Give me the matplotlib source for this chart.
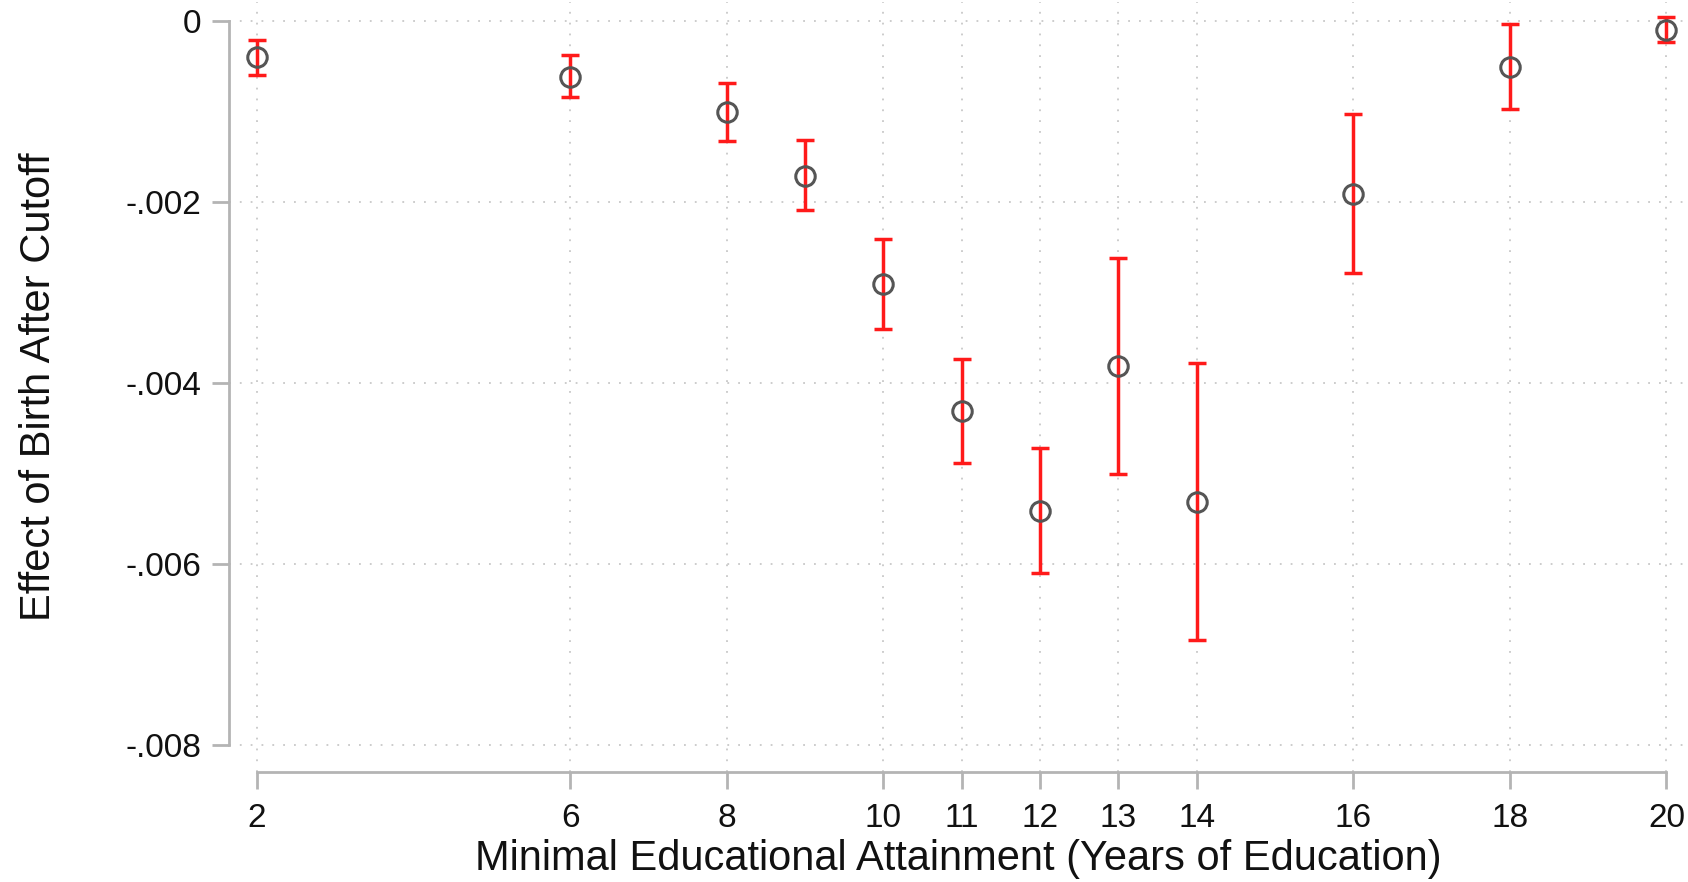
import numpy as np
import matplotlib
matplotlib.use("Agg")
import matplotlib.pyplot as plt

plt.rcParams['font.family'] = ['Liberation Sans', 'DejaVu Sans']

# years of education and estimated effect with 95% CI
years = [2, 6, 8, 9, 10, 11, 12, 13, 14, 16, 18, 20]
effect = [-0.00040, -0.00062, -0.00101, -0.00171, -0.00291, -0.00431,
          -0.00541, -0.00381, -0.00531, -0.00191, -0.00051, -0.00010]
ci_low = [-0.00060, -0.00084, -0.00133, -0.00209, -0.00340, -0.00488,
          -0.00610, -0.00500, -0.00684, -0.00278, -0.00097, -0.00024]
ci_high = [-0.00021, -0.00038, -0.00069, -0.00132, -0.00241, -0.00373,
           -0.00472, -0.00262, -0.00378, -0.00103, -0.00004, 0.00004]

x_ticks = [2, 6, 8, 10, 11, 12, 13, 14, 16, 18, 20]
y_ticks = [0, -0.002, -0.004, -0.006, -0.008]
y_tick_labels = ["0", "-.002", "-.004", "-.006", "-.008"]

effect = np.array(effect)
yerr = np.vstack([effect - np.array(ci_low), np.array(ci_high) - effect])

fig = plt.figure(figsize=(16.88, 8.82), dpi=100)
ax = fig.add_axes([229 / 1688, 1 - 772 / 882, 1 - 229 / 1688, 770 / 882])

# grid first so points sit on top
ax.set_xticks(x_ticks)
ax.set_yticks(y_ticks)
ax.grid(True, color='#c8c8c8', linestyle=(0, (1, 5)), linewidth=1.3)
ax.set_axisbelow(True)

ax.errorbar(years, effect, yerr=yerr, fmt='none', ecolor='#ff1a1a',
            elinewidth=2.5, capsize=6.5, capthick=2.5, clip_on=False, zorder=3)
ax.plot(years, effect, 'o', mfc='none', mec='#555555', ms=14, mew=2.2,
        clip_on=False, zorder=4)

ax.set_xlim(1.642, 20.275)
ax.set_ylim(-0.008293, 0.000207)

ax.set_yticklabels(y_tick_labels)
ax.set_xticklabels([str(v) for v in x_ticks])

for s in ['top', 'right']:
    ax.spines[s].set_visible(False)
ax.spines['left'].set_bounds(-0.008, 0)
ax.spines['bottom'].set_bounds(2, 20)
for s in ['left', 'bottom']:
    ax.spines[s].set_color('#b4b4b4')
    ax.spines[s].set_linewidth(2)

ax.tick_params(axis='both', colors='#b4b4b4', width=2, length=12,
               labelsize=24, labelcolor='#111111')
ax.tick_params(axis='y', pad=8)
ax.tick_params(axis='x', pad=10)

ax.set_xlabel("Minimal Educational Attainment (Years of Education)",
              fontsize=30, color='#111111', labelpad=4)
ax.set_ylabel("Effect of Birth After Cutoff", fontsize=30,
              color='#111111', labelpad=48)

fig.savefig("out.png", dpi=100)
